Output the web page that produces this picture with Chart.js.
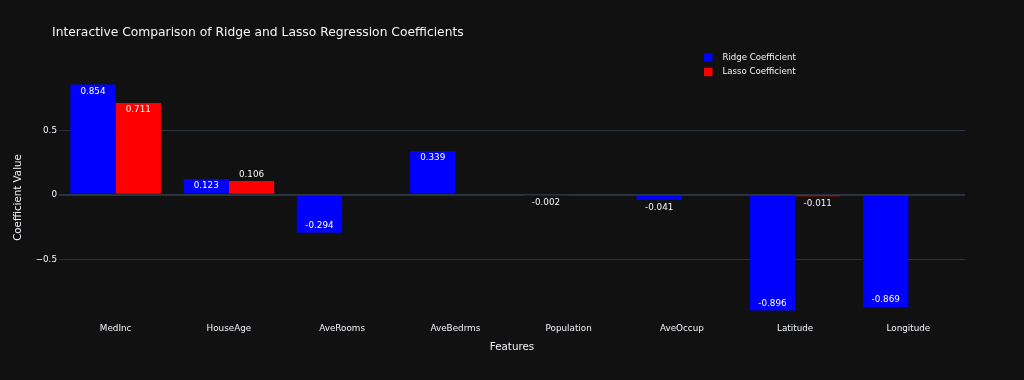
<!DOCTYPE html>
<html>
<head>
<meta charset="utf-8">
<script src="https://cdn.jsdelivr.net/npm/chart.js@4.4.1/dist/chart.umd.min.js"></script>
<style>
  html, body { margin: 0; padding: 0; background: #111111; }
  #wrap { width: 1024px; height: 380px; position: relative; }
</style>
</head>
<body>
<div id="wrap"><canvas id="grafico"></canvas></div>
<script>
// dados
const features = ['MedInc', 'HouseAge', 'AveRooms', 'AveBedrms', 'Population', 'AveOccup', 'Latitude', 'Longitude'];
const ridgeCoef = [0.854, 0.123, -0.294, 0.339, -0.002, -0.041, -0.896, -0.869];
const lassoCoef = [0.711, 0.106, 0, 0, 0, 0, -0.011, 0];
const yTicks = [-0.5, 0, 0.5];

const FONTE = '"DejaVu Sans", Verdana, sans-serif';
const TEXTO = '#f2f5fa';
const GRADE = '#283442';

// titulo, legenda e rotulos das barras
const extrasPlugin = {
    id: 'extras',
    afterDatasetsDraw(chart) {
        const ctx = chart.ctx;
        ctx.save();
        ctx.font = '8.8px ' + FONTE;
        ctx.textAlign = 'center';
        ctx.textBaseline = 'middle';
        chart.data.datasets.forEach((ds, i) => {
            const meta = chart.getDatasetMeta(i);
            meta.data.forEach((el, j) => {
                const v = ds.data[j];
                if (v === 0) return;
                const h = Math.abs(el.base - el.y);
                const txt = v.toFixed(3);
                let y;
                if (h >= 14) {
                    ctx.fillStyle = '#ffffff';
                    y = v > 0 ? Math.min(el.y + 7, (el.y + el.base) / 2) : el.y - 7;
                } else {
                    ctx.fillStyle = TEXTO;
                    y = v > 0 ? el.y - 6 : el.y + 8;
                }
                ctx.fillText(txt, el.x, y);
            });
        });
        ctx.restore();
    },
    afterDraw(chart) {
        const ctx = chart.ctx;
        ctx.save();
        ctx.fillStyle = TEXTO;
        ctx.textBaseline = 'middle';
        ctx.textAlign = 'left';
        ctx.font = '12.3px ' + FONTE;
        ctx.fillText('Interactive Comparison of Ridge and Lasso Regression Coefficients', 52, 32.5);

        ctx.font = '8.6px ' + FONTE;
        chart.data.datasets.forEach((ds, i) => {
            const y = 57.5 + i * 14.5;
            ctx.fillStyle = ds.backgroundColor;
            ctx.fillRect(704, y - 4.3, 8.5, 8.5);
            ctx.fillStyle = TEXTO;
            ctx.fillText(ds.label, 722.5, y);
        });
        ctx.restore();
    }
};

new Chart(document.getElementById('grafico'), {
    type: 'bar',
    data: {
        labels: features,
        datasets: [
            { label: 'Ridge Coefficient', data: ridgeCoef, backgroundColor: '#0000ff' },
            { label: 'Lasso Coefficient', data: lassoCoef, backgroundColor: '#ff0000' }
        ]
    },
    options: {
        responsive: true,
        maintainAspectRatio: false,
        animation: false,
        categoryPercentage: 0.8,
        barPercentage: 1.0,
        layout: { padding: { top: 75, right: 59, left: 0, bottom: 0 } },
        plugins: {
            legend: { display: false },
            title: { display: false },
            tooltip: { enabled: false }
        },
        scales: {
            x: {
                grid: { display: false, drawTicks: false },
                border: { display: false },
                ticks: { color: TEXTO, font: { family: FONTE, size: 8.8 }, padding: 3, maxRotation: 0 },
                title: {
                    display: true, text: 'Features', color: TEXTO,
                    font: { family: FONTE, size: 10.3 }, padding: { top: 0, bottom: 26 }
                },
                afterFit(scale) { scale.height = 60; }
            },
            y: {
                min: -0.9705,
                max: 0.9285,
                afterBuildTicks(scale) { scale.ticks = yTicks.map(v => ({ value: v })); },
                grid: {
                    drawTicks: false,
                    color: GRADE,
                    lineWidth: c => (c.tick && c.tick.value === 0 ? 2 : 1)
                },
                border: { display: false },
                ticks: {
                    color: TEXTO, font: { family: FONTE, size: 8.8 }, padding: 2,
                    callback: v => (v < 0 ? '\u2212' + Math.abs(v) : String(v))
                },
                title: {
                    display: true, text: 'Coefficient Value', color: TEXTO,
                    font: { family: FONTE, size: 10.3 }, padding: { top: 12, bottom: 0 }
                },
                afterFit(scale) { scale.width = 59; }
            }
        }
    },
    plugins: [extrasPlugin]
});
</script>
</body>
</html>
